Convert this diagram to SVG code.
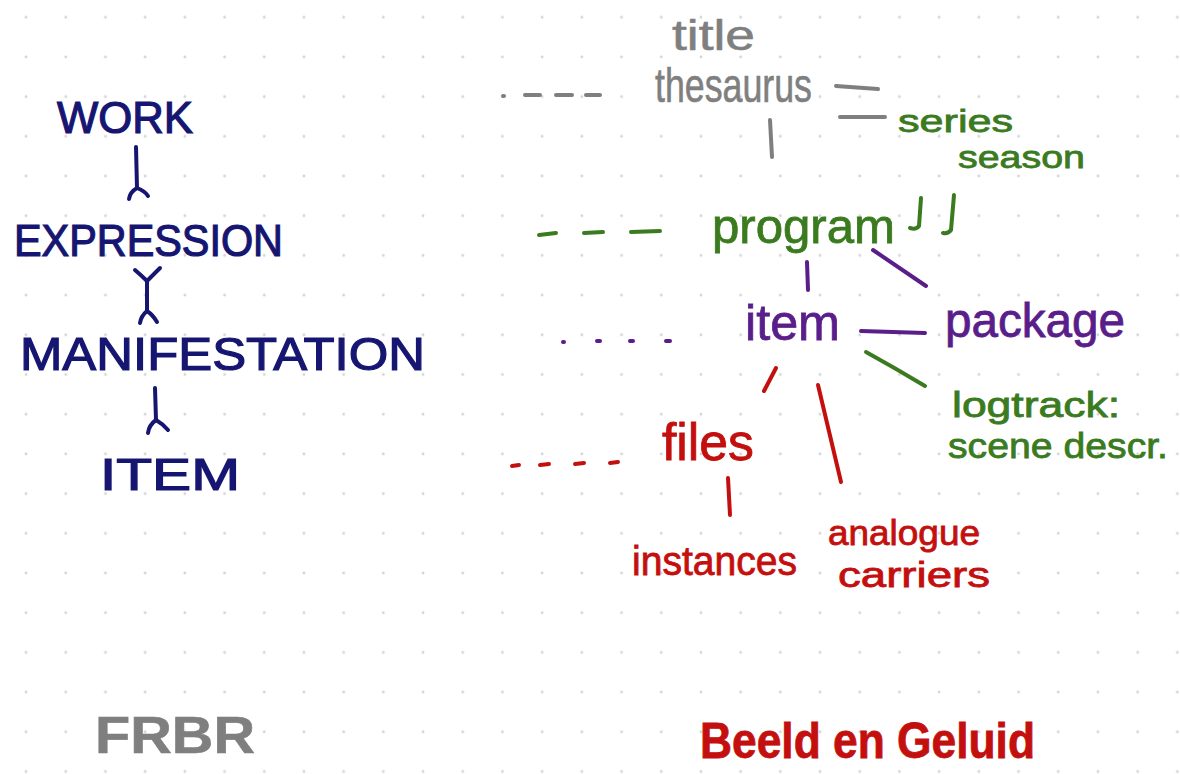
<svg xmlns="http://www.w3.org/2000/svg" width="1180" height="774" viewBox="0 0 1180 774">
<defs>
<pattern id="dots" x="6.2" y="-2.6" width="39.7" height="39.7" patternUnits="userSpaceOnUse">
<circle cx="19.85" cy="19.85" r="1.4" fill="#d4d4d4"/>
</pattern>
<style>
text{font-family:"Liberation Sans",Arial,sans-serif;}
.navy{fill:#161672;stroke:#161672;stroke-width:1.2;}
.gray{fill:#7f7f7f;stroke:#7f7f7f;stroke-width:0.6;}
.green{fill:#3b7b1f;stroke:#3b7b1f;stroke-width:0.8;}
.purple{fill:#5a1e8a;stroke:#5a1e8a;stroke-width:0.8;}
.red{fill:#c40f0f;stroke:#c40f0f;stroke-width:0.8;}
.ln{fill:none;stroke-linecap:round;stroke-linejoin:round;stroke-width:4;}
.sn{stroke:#161672;}
.sg{stroke:#7f7f7f;}
.sgr{stroke:#3b7b1f;}
.sp{stroke:#5a1e8a;}
.sr{stroke:#c40f0f;}
</style>
</defs>
<rect width="1180" height="774" fill="#ffffff"/>
<rect width="1180" height="774" fill="url(#dots)"/>

<g id="work"><text class="navy" x="57" y="133" font-size="44" textLength="136" lengthAdjust="spacingAndGlyphs">WORK</text></g>
<g id="expression"><text class="navy" x="14" y="256" font-size="44" textLength="269" lengthAdjust="spacingAndGlyphs">EXPRESSION</text></g>
<g id="manifestation"><text class="navy" x="20" y="370" font-size="46" textLength="405" lengthAdjust="spacingAndGlyphs">MANIFESTATION</text></g>
<g id="item-frbr"><text class="navy" x="100" y="490" font-size="44" textLength="140" lengthAdjust="spacingAndGlyphs">ITEM</text></g>

<g id="title-thesaurus">
<text class="gray" x="672" y="50" font-size="42" textLength="83" lengthAdjust="spacingAndGlyphs">title</text>
<text class="gray" x="655" y="102" font-size="48" textLength="157" lengthAdjust="spacingAndGlyphs">thesaurus</text>
</g>
<g id="series-season">
<text class="green" x="898" y="132" font-size="32" textLength="115" lengthAdjust="spacingAndGlyphs">series</text>
<text class="green" x="958" y="168" font-size="32" textLength="127" lengthAdjust="spacingAndGlyphs">season</text>
</g>
<g id="program">
<text class="green" x="712" y="243" font-size="48" textLength="183" lengthAdjust="spacingAndGlyphs">program</text>
<path class="ln sgr" d="M921 198 L919 226 Q916 230 910 228 M954 195 L951 230 Q948 234 943 233"/>
</g>
<g id="item">
<text class="purple" x="745" y="340" font-size="50" textLength="95" lengthAdjust="spacingAndGlyphs">item</text>
</g>
<g id="package">
<text class="purple" x="945" y="337" font-size="48" textLength="180" lengthAdjust="spacingAndGlyphs">package</text>
</g>
<g id="logtrack">
<text class="green" x="952" y="417" font-size="35" textLength="168" lengthAdjust="spacingAndGlyphs">logtrack:</text>
<text class="green" x="948" y="458" font-size="35" textLength="220" lengthAdjust="spacingAndGlyphs">scene descr.</text>
</g>
<g id="files">
<text class="red" x="662" y="460" font-size="52" textLength="92" lengthAdjust="spacingAndGlyphs">files</text>
</g>
<g id="instances">
<text class="red" x="632" y="575" font-size="40" textLength="165" lengthAdjust="spacingAndGlyphs">instances</text>
</g>
<g id="analogue-carriers">
<text class="red" x="828" y="545" font-size="35" textLength="152" lengthAdjust="spacingAndGlyphs">analogue</text>
<text class="red" x="838" y="587" font-size="35" textLength="152" lengthAdjust="spacingAndGlyphs">carriers</text>
</g>
<g id="frbr-label"><text class="gray" x="95" y="753" font-size="52" font-weight="bold" textLength="160" lengthAdjust="spacingAndGlyphs">FRBR</text></g>
<g id="bg-label"><text class="red" x="700" y="758" font-size="50" font-weight="bold" textLength="335" lengthAdjust="spacingAndGlyphs">Beeld en Geluid</text></g>

<g id="connectors">
<path class="ln sn" d="M136 147 L137 188 M137 188 Q130 192 129 199 M137 188 Q145 191 148 196"/>
<path class="ln sn" d="M135 270 Q142 276 147 281 Q153 275 160 268 M147 281 L147 311 M147 311 Q141 316 140 323 M147 311 Q153 315 157 322"/>
<path class="ln sn" d="M155 388 L156 420 M156 420 Q149 425 148 433 M156 420 Q163 424 168 430"/>
<path class="ln sg" d="M503 96 L504 96 M525 95 L540 95 M556 95 L572 95 M586 95 L600 95"/>
<path class="ln sg" d="M836 86 L878 89 M840 117 L885 117 M770 120 L772 157"/>
<path class="ln sgr" d="M539 235 L556 233 M584 233 L603 232 M631 232 L660 231"/>
<path class="ln sgr" d="M866 352 Q895 368 925 386"/>
<path class="ln sp" d="M563 342 L564 342 M597 341 L600 341 M630 341 L633 341 M666 341 L670 341"/>
<path class="ln sp" d="M807 262 L808 290"/>
<path class="ln sp" d="M873 250 L926 286"/>
<path class="ln sp" d="M861 331 L925 333"/>
<path class="ln sr" d="M512 466 L519 465 M540 465 L549 464 M575 464 L584 463 M610 463 L618 462"/>
<path class="ln sr" d="M776 368 L764 391"/>
<path class="ln sr" d="M818 385 L841 482"/>
<path class="ln sr" d="M728 478 L730 515"/>
</g>
</svg>
